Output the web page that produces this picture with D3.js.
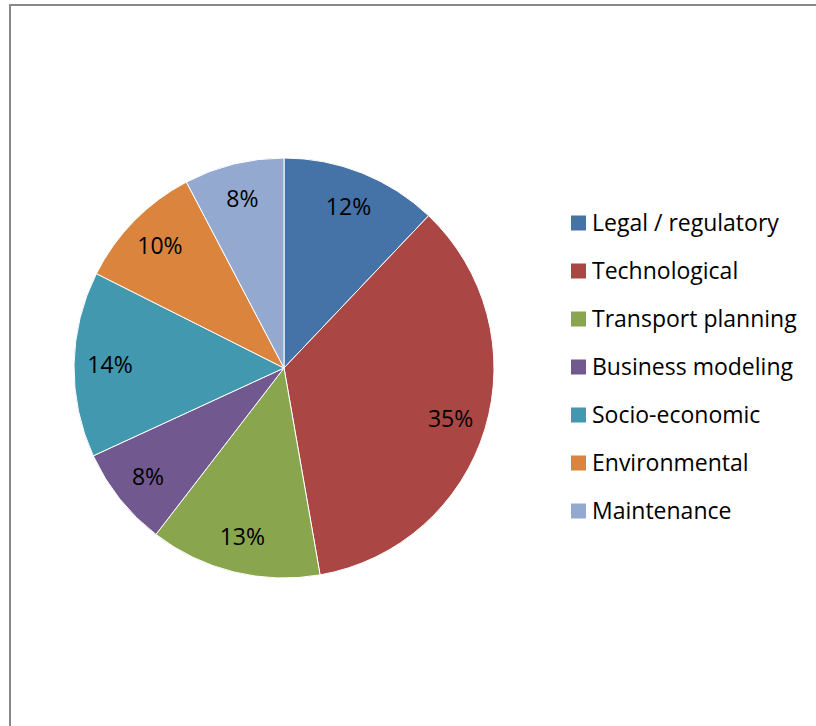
<!DOCTYPE html>
<html><head><meta charset="utf-8">
<script src="https://cdn.jsdelivr.net/npm/d3@7"></script>
<style>html,body{margin:0;padding:0;background:#fff;}svg{display:block;}</style>
</head><body>
<svg id="c" width="816" height="726"></svg>
<script>
const categories = ["Legal / regulatory","Technological","Transport planning","Business modeling","Socio-economic","Environmental","Maintenance"];
const values = [11,32,12,7,13,9,7];
const colors = ["#4572A7","#AA4643","#89A54E","#71588F","#4198AF","#DB843D","#93A9CF"];

const svg = d3.select("#c");
svg.append("rect").attr("x",10).attr("y",5).attr("width",830).attr("height",740)
  .attr("fill","#fff").attr("stroke","#888").attr("stroke-width",2);

const cx = 284, cy = 368, R = 210;
const pie = d3.pie().sort(null).value(d=>d)(values);
const arc = d3.arc().innerRadius(0).outerRadius(R);
const labelArc = d3.arc().innerRadius(174).outerRadius(174);
const g = svg.append("g").attr("transform",`translate(${cx},${cy})`);
g.selectAll("path").data(pie).join("path")
  .attr("d",arc).attr("fill",(d,i)=>colors[i]).attr("stroke","#fff").attr("stroke-width",1);
const total = d3.sum(values);
g.selectAll("text").data(pie).join("text")
  .attr("transform",d=>`translate(${labelArc.centroid(d)})`)
  .attr("text-anchor","middle").attr("dy","0.36em")
  .style("font-family","'Open Sans', sans-serif").style("font-size","23px").attr("fill","#000")
  .text(d=>Math.round(d.value/total*100)+"%");

const leg = svg.append("g");
const y = d3.scalePoint().domain(categories).range([223,511]);
const items = leg.selectAll("g").data(categories).join("g")
  .attr("transform",d=>`translate(571,${y(d)})`);
items.append("rect").attr("x",0).attr("y",-7.5).attr("width",15).attr("height",15)
  .attr("fill",(d,i)=>colors[i]);
items.append("text").attr("x",21).attr("dy","0.36em")
  .style("font-family","'Open Sans', sans-serif").style("font-size","23px").attr("fill","#000")
  .text(d=>d);
</script>
</body></html>
